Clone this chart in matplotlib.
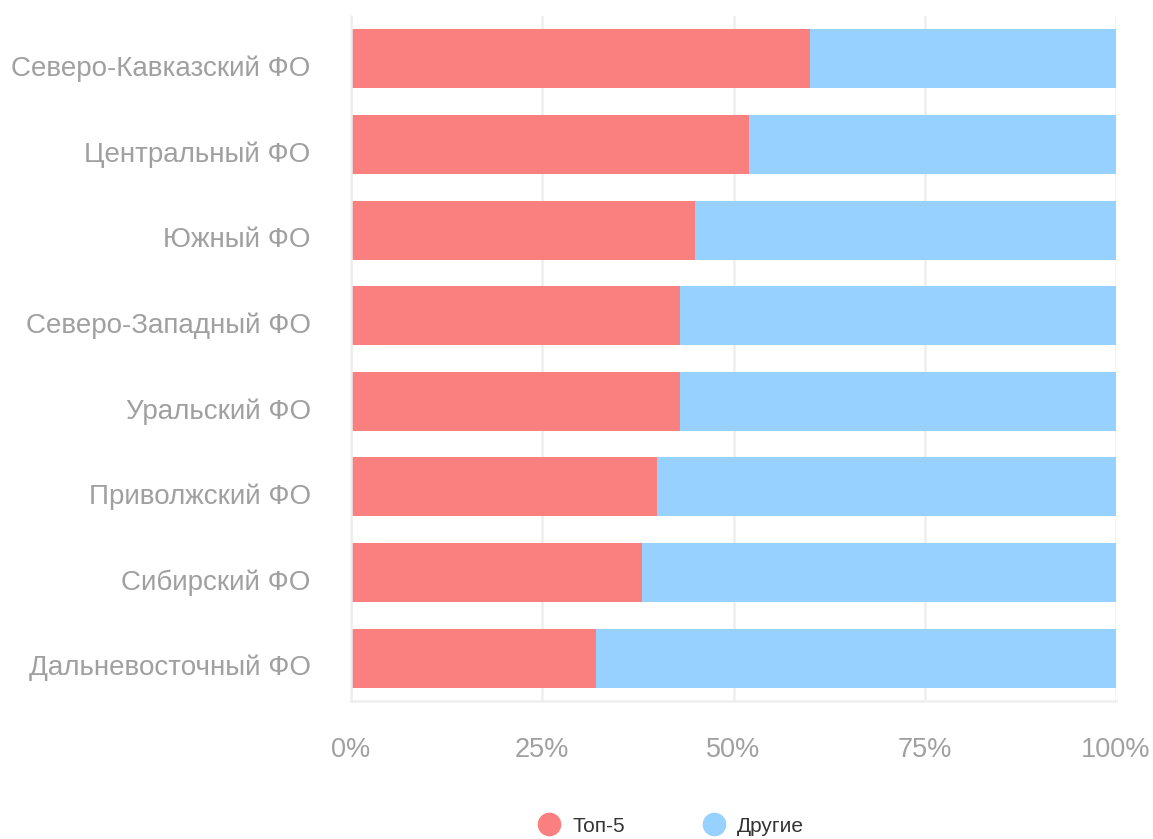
import matplotlib.pyplot as plt
import matplotlib.transforms as mtransforms
import numpy as np

plt.rcParams['font.family'] = ['Liberation Sans', 'DejaVu Sans']

# округа сверху вниз, доля топ-5 в процентах
districts = ['Северо-Кавказский ФО', 'Центральный ФО', 'Южный ФО',
             'Северо-Западный ФО', 'Уральский ФО', 'Приволжский ФО',
             'Сибирский ФО', 'Дальневосточный ФО']
top5 = [60, 52, 45, 43, 43, 40, 38, 32]
others = [100 - v for v in top5]
ticks = [0, 25, 50, 75, 100]
tick_labels = ['0%', '25%', '50%', '75%', '100%']

red = '#fa8080'
blue = '#96d1ff'
grey = '#a0a0a0'

fig = plt.figure(figsize=(11.53, 8.39), dpi=100)
ax = fig.add_axes([351 / 1153, 1 - 701 / 839, 765 / 1153, 685 / 839])

y = np.arange(len(districts))
ax.barh(y, top5, height=0.69, color=red, zorder=2)
ax.barh(y, others, left=top5, height=0.69, color=blue, zorder=2)

ax.set_xlim(0, 100)
ax.set_ylim(len(districts) - 0.5, -0.5)
ax.set_yticks(y)
ax.set_yticklabels(districts)
ax.set_xticks(ticks)
ax.set_xticklabels(tick_labels)
ax.tick_params(axis='y', length=0, pad=29, labelsize=20, labelcolor=grey)
ax.tick_params(axis='x', length=0, pad=26, labelsize=19.5, labelcolor=grey)

# подписи округов чуть ниже центра полос, как в оригинале
shift = mtransforms.ScaledTranslation(0, -0.07, fig.dpi_scale_trans)
for lbl in ax.get_yticklabels():
    lbl.set_transform(lbl.get_transform() + shift)

ax.grid(axis='x', color='#eeeeee', linewidth=1.8, zorder=0)
for side in ['top', 'right']:
    ax.spines[side].set_visible(False)
for side in ['left', 'bottom']:
    ax.spines[side].set_color('#eeeeee')
    ax.spines[side].set_linewidth(1.8)

# легенда внизу по центру
handles = [plt.Line2D([], [], marker='o', linestyle='', markersize=16,
                      color=c) for c in (red, blue)]
fig.legend(handles, ['Топ-5', 'Другие'], loc='center',
           bbox_to_anchor=(0.578, 1 - 826 / 839), ncol=2, frameon=False,
           fontsize=15, labelcolor='#333333', handletextpad=0.1,
           columnspacing=3.3)

fig.savefig('out.png', dpi=100)
